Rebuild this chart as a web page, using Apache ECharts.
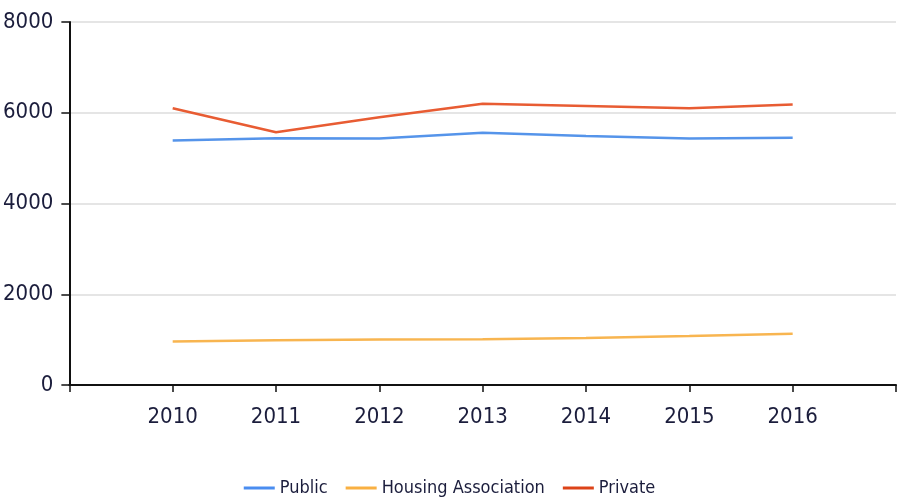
<!DOCTYPE html>
<html>
<head>
<meta charset="utf-8">
<script src="https://cdn.jsdelivr.net/npm/echarts@6/dist/echarts.min.js"></script>
<style>
  html, body { margin: 0; padding: 0; background: #fff; }
  #chart { width: 899px; height: 503px; }
</style>
</head>
<body>
<div id="chart"></div>
<script>
// data
var years = [2010, 2011, 2012, 2013, 2014, 2015, 2016];
var publicVals = [5390, 5440, 5430, 5560, 5490, 5430, 5450];
var housingVals = [960, 985, 1005, 1010, 1035, 1080, 1130];
var privateVals = [6100, 5570, 5900, 6200, 6150, 6100, 6180];
var yTicks = [0, 2000, 4000, 6000, 8000];

var font = "'DejaVu Sans Condensed', 'Liberation Sans', Arial, sans-serif";
var txt = '#1b1d3c';

function pairs(vals) {
  return years.map(function (y, i) { return [y, vals[i]]; });
}

var myChart = echarts.init(document.getElementById('chart'));
var option = {
  animation: false,
  grid: { left: 69, right: 1, top: 22, bottom: 118 },
  legend: {
    bottom: 1,
    left: 'center',
    itemWidth: 31,
    itemHeight: 3,
    itemGap: 18,
    icon: 'rect',
    textStyle: { fontFamily: font, fontSize: 18, color: txt },
    data: ['Public', 'Housing Association', 'Private']
  },
  xAxis: {
    type: 'value',
    min: years[0] - 1,
    max: years[years.length - 1] + 1,
    interval: 1,
    splitLine: { show: false },
    axisLine: { lineStyle: { color: '#111', width: 2 } },
    axisTick: { length: 7, lineStyle: { color: '#111', width: 1.5 } },
    axisLabel: {
      margin: 21,
      fontFamily: font, fontSize: 22, color: txt,
      formatter: function (v) { return years.indexOf(v) >= 0 ? String(v) : ''; }
    }
  },
  yAxis: {
    type: 'value',
    min: yTicks[0],
    max: yTicks[yTicks.length - 1],
    interval: 2000,
    axisLine: { show: true, lineStyle: { color: '#111', width: 2 } },
    axisTick: { show: true, length: 8, lineStyle: { color: '#111', width: 1.5 } },
    splitLine: { lineStyle: { color: '#dcdcdc', width: 1.5 } },
    axisLabel: {
      margin: 16, fontFamily: font, fontSize: 22, color: txt,
      formatter: function (v) { return String(v); }
    }
  },
  series: [
    {
      name: 'Public', type: 'line', data: pairs(publicVals),
      showSymbol: false, symbol: 'none',
      lineStyle: { color: '#5594ea', width: 2.5 }, itemStyle: { color: '#4a8df0' }
    },
    {
      name: 'Housing Association', type: 'line', data: pairs(housingVals),
      showSymbol: false, symbol: 'none',
      lineStyle: { color: '#f8b550', width: 2.5 }, itemStyle: { color: '#f9b042' }
    },
    {
      name: 'Private', type: 'line', data: pairs(privateVals),
      showSymbol: false, symbol: 'none',
      lineStyle: { color: '#e85c33', width: 2.5 }, itemStyle: { color: '#dc4318' }
    }
  ]
};
myChart.setOption(option);
</script>
</body>
</html>
